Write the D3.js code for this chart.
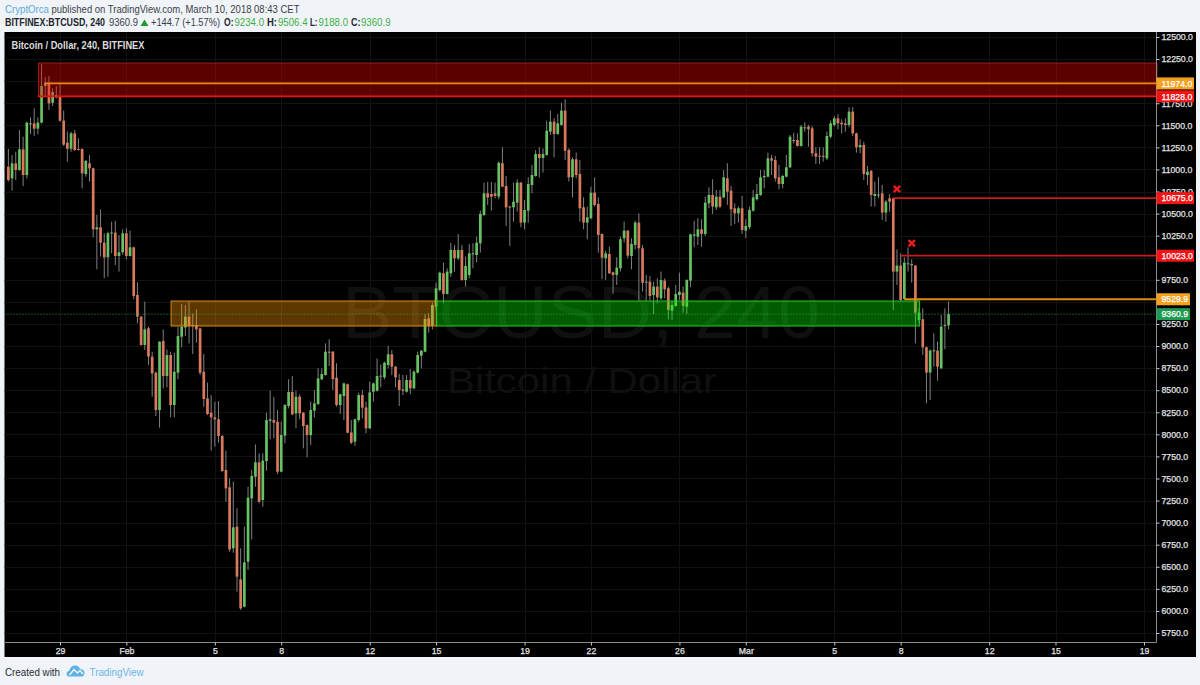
<!DOCTYPE html>
<html><head><meta charset="utf-8">
<script src="https://cdnjs.cloudflare.com/ajax/libs/d3/7.8.5/d3.min.js"></script>
<style>html,body{margin:0;padding:0;background:#f0f3f8;overflow:hidden}svg{display:block}</style>
</head><body><svg id="c" width="1200" height="685"></svg>
<script>
const firstCandle = "2018-01-26T16:00:00Z";
const opens = [11031,10899,11069,10994,11228,10937,11515,11522,11462,11530,11945,11975,11756,11843,11824,11552,11303,11235,11409,11232,11232,10948,11069,11013,10322,10345,10171,10005,10277,10285,10020,10062,10277,10020,10118,9579,9333,9012,9201,
8879,8698,8275,9057,8660,8898,8332,8698,9106,9211,9332,9238,9238,9200,8709,8407,8245,8192,8170,7981,7596,7399,6709,6954,6358,6048,6558,7275,7520,7683,7256,7698,8154,8162,8143,7577,7985,8321,8479,8237,8426,8245,8105,7992,8268,8343,8623,8672,8936,8936,8641,8332,8434,8566,8022,7917,8162,8445,8305,8068,8483,8494,8657,8645,8785,8906,8766,8615,8509,8483,8615,8521,8698,8891,8936,9313,9227,
9446,9635,9824,9590,9824,10088,9994,10088,9748,9805,10043,10031,10164,10484,10730,10722,10730,10692,11070,10813,10579,10571,10624,10851,10398,10533,10824,10926,11175,11130,11164,11428,11541,11402,11504,11666,11220,10911,11115,10949,10571,10398,10447,10737,10609,10269,9994,10043,9835,9805,9880,10220,10307,10020,10145,10398,10107,9718,9729,9578,9673,9541,9741,9654,9401,9454,9578,9605,9446,9741,10250,10239,10322,10269,10617,10711,10571,10692,
10684,10900,10760,10560,10503,10560,10307,10345,10533,10662,10711,10911,10918,11126,11107,10911,10835,10918,11024,11334,11334,11266,11470,11485,11466,11183,11156,11153,11126,11371,11504,11579,11530,11522,11504,11655,11409,11251,11277,10937,10983,10700,10707,10730,10511,10673,10673,9843,9911,9533,9929,9929,9911,9295,9303,8986,8699,8944,8948,8748,9227,9234];
const highs = [11232,11164,11201,11447,11371,11541,11590,11692,11590,12194,12043,12058,11919,11945,11975,11666,11428,11428,11447,11352,11239,11107,11164,11020,10484,10548,10277,10296,10409,10417,10258,10322,10334,10307,10125,9722,9340,9503,9220,
8936,8710,9055,9189,8962,8936,8925,9219,9476,9464,9502,9370,9415,9208,8909,8585,8445,8370,8377,7992,7815,7501,7464,7162,6709,6954,7407,7596,7886,7785,7785,8245,8494,8426,8275,8143,8343,8623,8660,8494,8453,8252,8112,8370,8502,8747,8747,9030,9076,8943,8804,8460,8585,8575,8162,8177,8472,8502,8370,8596,8585,8860,8792,8823,9000,8955,8774,8683,8672,8672,8740,8728,8936,8955,9362,9370,9491,
9718,9843,9945,9880,10171,10145,10269,10145,10012,10156,10164,10239,10533,10851,10858,10858,10851,11088,11251,10926,10590,10851,10888,10858,10654,10911,11051,11220,11251,11239,11553,11666,11579,11628,11757,11794,11239,11137,11190,11107,10684,10579,10805,10911,10684,10277,10080,10126,9843,10005,10239,10409,10315,10220,10420,10503,10145,9805,9794,9729,9767,9843,9767,9673,9514,9692,9831,9673,9756,10272,10420,10447,10435,10692,10798,10888,10767,10767,
10994,11070,10813,10617,10579,10700,10435,10579,10767,10835,10994,10994,11190,11164,11153,11051,10937,11164,11390,11417,11409,11504,11534,11504,11492,11251,11251,11251,11428,11553,11606,11628,11568,11579,11704,11704,11417,11341,11315,11039,10994,10862,10911,10824,10654,10722,10680,10095,10050,10005,10118,9982,9918,9427,9427,8994,8963,9144,9050,9352,9427,9506.4];
const lows = [10862,10760,10880,10985,10813,10899,11401,11379,11401,11520,11824,11673,11719,11805,11541,11266,11088,11201,11210,11215,10786,10918,10862,10232,9869,10013,9767,9786,10050,9918,9843,10032,9983,10013,9530,9258,9005,8956,8786,
8426,8207,8076,8521,8532,8192,8192,8623,8985,9113,9030,8909,9038,8672,8313,8219,7815,7860,7905,7577,7237,6671,6659,6218,6010,6040,6463,6810,7407,7218,7180,7588,7943,7954,7550,7570,7898,8294,8219,8068,8170,7841,7739,7879,8192,8332,8615,8665,8774,8502,8313,8230,8162,8011,7890,7868,8143,8181,8011,8060,8370,8483,8532,8623,8747,8672,8532,8321,8445,8472,8456,8509,8690,8747,8928,9151,9189,
9400,9616,9484,9583,9786,9843,9975,9741,9673,9767,9880,9945,10058,10473,10598,10533,10673,10662,10798,10360,10133,10409,10522,10345,10322,10398,10730,10918,10911,10964,11155,11390,11137,11390,11495,11107,10862,10684,10900,10409,10322,10209,10435,10579,10058,9756,9748,9816,9590,9692,9843,10171,9994,9869,10096,9514,9616,9514,9514,9363,9484,9522,9541,9303,9295,9446,9522,9378,9363,9665,10118,10145,10126,10247,10560,10496,10541,10560,
10673,10598,10360,10382,10398,10269,10220,10322,10522,10647,10700,10786,10911,10937,10862,10775,10786,10911,11018,11296,11258,11258,11428,11258,11145,11062,11062,11088,11107,11353,11485,11455,11409,11428,11477,11379,11190,11183,10881,10824,10579,10579,10673,10428,10409,10522,9408,9692,9503,9525,9843,9718,9031,9258,8899,8352,8389,8767,8608,8737,8963,9188];
const closes = [10880,11069,10994,11228,10937,11530,11522,11462,11530,11945,11983,11749,11877,11817,11552,11281,11235,11409,11220,11224,10956,11096,11013,10322,10345,10171,10005,10277,10285,10020,10062,10277,10020,10118,9567,9333,9012,9190,8880,
8690,8275,9049,8660,8898,8332,8709,9113,9219,9332,9227,9227,9189,8698,8400,8230,8192,8170,7981,7584,7388,6697,6946,6388,6029,6550,7282,7528,7683,7237,7702,8162,8170,8132,7577,7992,8332,8479,8226,8426,8237,8094,7992,8275,8351,8634,8683,8936,8928,8626,8332,8453,8577,8019,7905,8170,8445,8302,8068,8475,8577,8660,8664,8811,8906,8766,8645,8502,8494,8615,8521,8709,8898,8947,9306,9227,9464,
9654,9831,9590,9843,10088,9994,10088,9748,9907,10050,10050,10171,10496,10730,10684,10692,10700,11077,10805,10571,10571,10635,10851,10398,10541,10835,10937,11175,11130,11175,11439,11541,11402,11522,11666,11213,10911,11115,10937,10560,10398,10458,10737,10598,10258,10001,10050,9824,9805,9888,10209,10307,10024,10156,10398,10107,9718,9729,9567,9673,9552,9748,9643,9408,9465,9590,9616,9454,9748,10265,10265,10322,10269,10624,10711,10579,10692,10579,
10911,10749,10549,10503,10560,10315,10360,10541,10684,10722,10911,10926,11126,11100,10900,10835,10926,11024,11371,11326,11266,11485,11477,11455,11183,11145,11149,11145,11379,11522,11579,11522,11511,11504,11655,11409,11251,11277,10949,10975,10711,10722,10715,10511,10635,10635,9843,9911,9522,9945,9937,9914,9378,9378,8986,8699,8948,8952,8767,9220,9239,9360.9];

const priceTicks = d3.range(5750, 12501, 250);
const timeTicks = ["2018-01-29","2018-02-01","2018-02-05","2018-02-08","2018-02-12","2018-02-15","2018-02-19","2018-02-22","2018-02-26","2018-03-01","2018-03-05","2018-03-08","2018-03-12","2018-03-15","2018-03-19"];
const timeLabels = ["29","Feb","5","8","12","15","19","22","26","Mar","5","8","12","15","19"];

const zoneNames  = ["resistance","supplyOrange","demandGreen"];
const zoneStart  = ["2018-01-28T00:00Z","2018-02-03T00:00Z","2018-02-15T00:00Z"];
const zoneEnd    = [null,"2018-02-15T00:00Z","2018-03-08T20:00Z"];
const zoneTop    = [12205,9510,9510];
const zoneBottom = [11828,9227,9227];
const zoneFill   = ["#ff0000","#ff9800","#00ff00"];
const zoneEdge   = ["#96201c","#dc8c14","#2cc62c"];

const levelValues = [11974,11828,10675,10023,9529.9];
const levelStart  = ["2018-01-28T08:00Z","2018-01-28T00:00Z","2018-03-07T16:00Z","2018-03-08T00:00Z","2018-03-08T04:00Z"];
const levelColor  = ["#e88a14","#e81414","#cc1a1a","#cc1a1a","#e08a10"];
const tagColor    = ["#f5a01e","#f01414","#f01414","#f01414","#f5a01e"];
const lastPrice = 9360.9;
const crossTimes = ["2018-03-07T20:00Z","2018-03-08T12:00Z"];
const crossPrices = [10779,10164];

const FONT = "'Liberation Sans',Arial,sans-serif";
const svg = d3.select("#c");
const L=4.5,R=1156.5,T=32,B=642.5;
const x = d3.scaleUtc().domain([new Date("2018-01-29T00:00Z"),new Date("2018-03-19T00:00Z")]).range([60,1144]);
const y = d3.scaleLinear().domain([5750,12500]).range([633,37]);
const t0 = +new Date(firstCandle), step = 4*3600*1000;
const tx = i => x(new Date(t0+i*step));

const defs = svg.append("defs");
defs.append("filter").attr("id","soft").attr("x","-2%").attr("y","-2%").attr("width","104%").attr("height","104%")
  .append("feGaussianBlur").attr("stdDeviation",0.35);

svg.append("rect").attr("x",L).attr("y",T).attr("width",1196-L).attr("height",657-T).attr("fill","#000");

// grid
const grid = svg.append("g").attr("stroke","#101214").attr("stroke-width",1);
priceTicks.forEach(p=>grid.append("line").attr("x1",L).attr("x2",R).attr("y1",Math.round(y(p))+.5).attr("y2",Math.round(y(p))+.5));
timeTicks.forEach(t=>{const v=Math.round(x(new Date(t+"T00:00Z")))+.5;grid.append("line").attr("x1",v).attr("x2",v).attr("y1",T).attr("y2",B);});

// watermark
svg.append("text").attr("x",342).attr("y",338).attr("font-family",FONT).attr("font-size",74).attr("fill","#101010").attr("textLength",478).attr("lengthAdjust","spacingAndGlyphs").text("BTCUSD, 240");
svg.append("text").attr("x",447).attr("y",393).attr("font-family",FONT).attr("font-size",35).attr("fill","#101010").attr("textLength",270).attr("lengthAdjust","spacingAndGlyphs").text("Bitcoin / Dollar");

// candles
const UP="#66c262",DOWN="#d97a5e",WICK="#808080";
const candles = svg.append("g").attr("filter","url(#soft)");
candles.selectAll("line").data(opens).join("line")
  .attr("x1",(d,i)=>tx(i)).attr("x2",(d,i)=>tx(i))
  .attr("y1",(d,i)=>y(highs[i])).attr("y2",(d,i)=>y(lows[i]))
  .attr("stroke",WICK).attr("stroke-width",1);
candles.selectAll("rect").data(opens).join("rect")
  .attr("x",(d,i)=>tx(i)-1.35).attr("width",2.7)
  .attr("y",(d,i)=>y(Math.max(d,closes[i])))
  .attr("height",(d,i)=>Math.max(1,Math.abs(y(d)-y(closes[i]))))
  .attr("fill",(d,i)=>closes[i]>=d?UP:DOWN);

// zones
zoneNames.forEach((n,k)=>{
  const xa=x(new Date(zoneStart[k])), xb=zoneEnd[k]?x(new Date(zoneEnd[k])):R;
  svg.append("rect").attr("x",xa+.5).attr("y",y(zoneTop[k])).attr("width",xb-xa).attr("height",y(zoneBottom[k])-y(zoneTop[k]))
    .attr("fill",zoneFill[k]).attr("fill-opacity",.36).attr("stroke",zoneEdge[k]).attr("stroke-width",1);
});

// last price dotted line
svg.append("line").attr("x1",L).attr("x2",R).attr("y1",y(lastPrice)).attr("y2",y(lastPrice))
  .attr("stroke","#3fa34a").attr("stroke-width",1).attr("stroke-dasharray","1 2");

// levels
levelValues.forEach((v,k)=>{
  svg.append("line").attr("x1",x(new Date(levelStart[k]))).attr("x2",R).attr("y1",y(v)).attr("y2",y(v))
    .attr("stroke",levelColor[k]).attr("stroke-width",1.8);
});
// crosses
crossTimes.forEach((t,k)=>{
  const a=x(new Date(t)), b=y(crossPrices[k]), s=3.2;
  svg.append("path").attr("d",`M${a-s},${b-s}L${a+s},${b+s}M${a-s},${b+s}L${a+s},${b-s}`).attr("stroke","#ee1c1c").attr("stroke-width",2.4).attr("fill","none");
});

// axes
const yAxis = svg.append("g").attr("transform",`translate(${R},0)`)
  .call(d3.axisRight(y).tickValues(priceTicks).tickFormat(d3.format(".1f")).tickSize(3).tickPadding(2));
const xAxis = svg.append("g").attr("transform",`translate(0,${B})`)
  .call(d3.axisBottom(x).tickValues(timeTicks.map(t=>new Date(t+"T00:00Z"))).tickFormat((d,i)=>timeLabels[i]).tickSize(3).tickPadding(2));
yAxis.select(".domain").attr("d",`M0,${T}V${B}`).attr("stroke","#8c8c8c");
xAxis.select(".domain").attr("d",`M${L},0H${R}`).attr("stroke","#8c8c8c");
[yAxis,xAxis].forEach(g=>{
  g.selectAll(".tick line").attr("stroke","#c8c8c8");
  g.selectAll("text").attr("fill","#e2e2e2").attr("font-family",FONT).attr("font-size",8.7).attr("stroke","#e2e2e2").attr("stroke-width",.25);
});

// value tags
const tagValues = levelValues.concat([lastPrice]);
const tagColors = tagColor.concat(["#1e9a50"]);
tagValues.forEach((v,k)=>{
  const w = v>=10000?37.5:33.5;
  svg.append("rect").attr("x",R).attr("y",y(v)-6).attr("width",w).attr("height",12).attr("fill",tagColors[k]);
  svg.append("text").attr("x",R+5).attr("y",y(v)+3.2).attr("font-family",FONT).attr("font-size",8.7).attr("fill","#fff").attr("stroke","#fff").attr("stroke-width",.25).text(d3.format(".1f")(v));
});

// header
function t(xp,yp,s,fill,w,len,size){
  const e=svg.append("text").attr("x",xp).attr("y",yp).attr("font-family",FONT).attr("font-size",size||11).attr("fill",fill).text(s);
  if(w) e.attr("font-weight",w);
  if(len) e.attr("textLength",len).attr("lengthAdjust","spacingAndGlyphs");
  return e;
}
t(5,12.5,"CryptOrca","#5aaadb",null,44);
t(51.5,12.5,"published on TradingView.com, March 10, 2018 08:43 CET","#3a3f48",null,248);
t(5,26,"BITFINEX:BTCUSD, 240","#23262c","bold",100);
t(109,26,"9360.9","#3a3f48",null,29);
svg.append("path").attr("d","M144.5,19.5L148.5,26H140.5Z").attr("fill","#1c9c2c");
t(151,26,"+144.7 (+1.57%)","#3a3f48",null,69);
const oh=[["O:",224,"9234.0",234.5,9.5],["H:",267,"9506.4",278,10],["L:",310,"9188.0",318.5,7.5],["C:",351,"9360.9",361,9.5]];
oh.forEach(r=>{t(r[1],26,r[0],"#23262c","bold",r[4]);t(r[3],26,r[2],"#3cb043",null,29.5);});

// chart title
svg.append("text").attr("x",11.5).attr("y",49).attr("font-family",FONT).attr("font-size",10.5).attr("font-weight","bold").attr("fill","#dcdcdc").attr("textLength",133).attr("lengthAdjust","spacingAndGlyphs").text("Bitcoin / Dollar, 240, BITFINEX");

// footer
t(5,675.5,"Created with","#2a2e36",null,55,11.5);
svg.append("path").attr("d","M69,676.5C65.5,676 66,671.5 69,671C70,667.5 72.5,665 75.5,665.5C78,665.5 79.5,667.5 80,669C83.5,669 85,672 84.5,674C84,676 82.5,676.5 81,676.5Z").attr("fill","#5cb2e2");
svg.append("path").attr("d","M69.5,675L74,669.5L77.5,673L80,670.5L83,674").attr("stroke","#f0f3f8").attr("stroke-width",1.5).attr("fill","none");
t(89.5,675.5,"TradingView","#6cb6e0",null,54,11.5);
</script></body></html>
